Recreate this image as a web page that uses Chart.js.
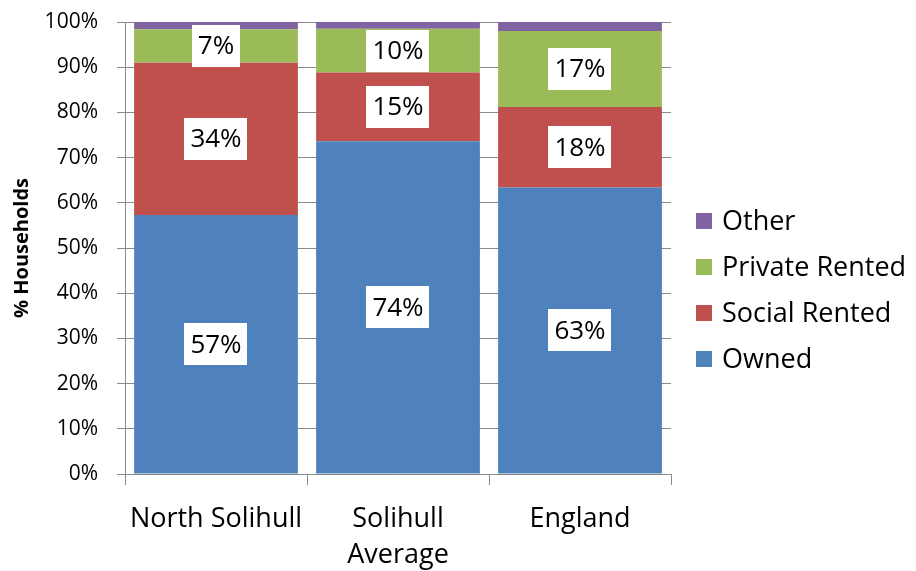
<!DOCTYPE html>
<html>
<head>
<meta charset="utf-8">
<script src="https://cdn.jsdelivr.net/npm/chart.js@4/dist/chart.umd.min.js"></script>
<style>
  html, body { margin: 0; padding: 0; background: #fff; }
  #wrap { width: 916px; height: 571px; position: relative; }
</style>
</head>
<body>
<div id="wrap"><canvas id="c" width="916" height="571"></canvas></div>
<script>
const categories = [["North Solihull"], ["Solihull", "Average"], ["England"]];
const owned = [57.3, 73.6, 63.4];
const socialRented = [33.7, 15.2, 17.8];
const privateRented = [7.4, 9.7, 16.8];
const other = [1.6, 1.5, 2.0];
const seriesNames = ["Owned", "Social Rented", "Private Rented", "Other"];
const seriesColors = ["#4F81BD", "#C0504D", "#9BBB59", "#8064A2"];
const yTickLabels = ["0%","10%","20%","30%","40%","50%","60%","70%","80%","90%","100%"];

const FONT = "'Open Sans', Lato, sans-serif";

const dataLabelPlugin = {
  id: 'boxLabels',
  afterDatasetsDraw(chart) {
    const ctx = chart.ctx;
    ctx.save();
    ctx.font = "26px " + FONT;
    ctx.textAlign = 'center';
    ctx.textBaseline = 'middle';
    for (let d = 0; d < 3; d++) {
      const meta = chart.getDatasetMeta(d);
      meta.data.forEach((el, i) => {
        const v = chart.data.datasets[d].data[i];
        const p = el.getProps(['x', 'y', 'base'], true);
        const cy = (p.y + p.base) / 2;
        const txt = Math.round(v) + '%';
        const w = ctx.measureText(txt).width + 12;
        const h = 42;
        ctx.fillStyle = '#ffffff';
        ctx.fillRect(Math.round(p.x - w / 2), Math.round(cy - h / 2), Math.round(w), h);
        ctx.fillStyle = '#000000';
        ctx.fillText(txt, p.x, cy + 1);
      });
    }
    ctx.restore();
  }
};

const legendPlugin = {
  id: 'sideLegend',
  afterDraw(chart) {
    const ctx = chart.ctx;
    ctx.save();
    ctx.font = "27px " + FONT;
    ctx.textBaseline = 'middle';
    ctx.textAlign = 'left';
    const ds = chart.data.datasets;
    const startY = 221, step = 46;
    for (let k = 0; k < ds.length; k++) {
      const d = ds[ds.length - 1 - k];
      const cy = startY + k * step;
      ctx.fillStyle = d.backgroundColor;
      ctx.fillRect(696, cy - 8, 16, 16);
      ctx.fillStyle = '#000000';
      ctx.fillText(d.label, 722, cy + 1);
    }
    ctx.restore();
  }
};

const seriesData = [owned, socialRented, privateRented, other];

new Chart(document.getElementById('c'), {
  type: 'bar',
  data: {
    labels: categories,
    datasets: seriesData.map((arr, i) => ({
      label: seriesNames[i],
      data: arr,
      backgroundColor: seriesColors[i],
      borderWidth: 0,
      barPercentage: 0.9,
      categoryPercentage: 1.0
    }))
  },
  options: {
    responsive: false,
    animation: false,
    devicePixelRatio: 1,
    layout: { padding: { top: 22, right: 245, left: 0, bottom: 0 } },
    plugins: {
      legend: { display: false },
      tooltip: { enabled: false }
    },
    scales: {
      x: {
        stacked: true,
        grid: { offset: true, drawOnChartArea: false, color: '#8a8a8a', tickLength: 11, lineWidth: 1 },
        border: { color: '#8a8a8a', width: 1 },
        ticks: { color: '#000', font: { family: FONT, size: 27, lineHeight: 1.35 }, padding: 16, maxRotation: 0 },
        afterFit(scale) { scale.height = 97; scale.paddingLeft = 0; scale.paddingRight = 0; }
      },
      y: {
        stacked: true,
        min: 0, max: 100,
        grid: { color: '#8a8a8a', tickLength: 8, lineWidth: 1 },
        border: { color: '#8a8a8a', width: 1 },
        ticks: {
          stepSize: 10,
          color: '#000',
          font: { family: FONT, size: 21 },
          padding: 19,
          callback: (v) => yTickLabels[Math.round(v / 10)]
        },
        title: {
          display: true,
          text: '% Households',
          color: '#000',
          font: { family: FONT, size: 20, weight: 'bold' },
          padding: { top: 10, bottom: 0 }
        },
        afterFit(scale) { scale.width = 125; scale.paddingTop = 0; scale.paddingBottom = 0; }
      }
    }
  },
  plugins: [dataLabelPlugin, legendPlugin]
});
</script>
</body>
</html>
